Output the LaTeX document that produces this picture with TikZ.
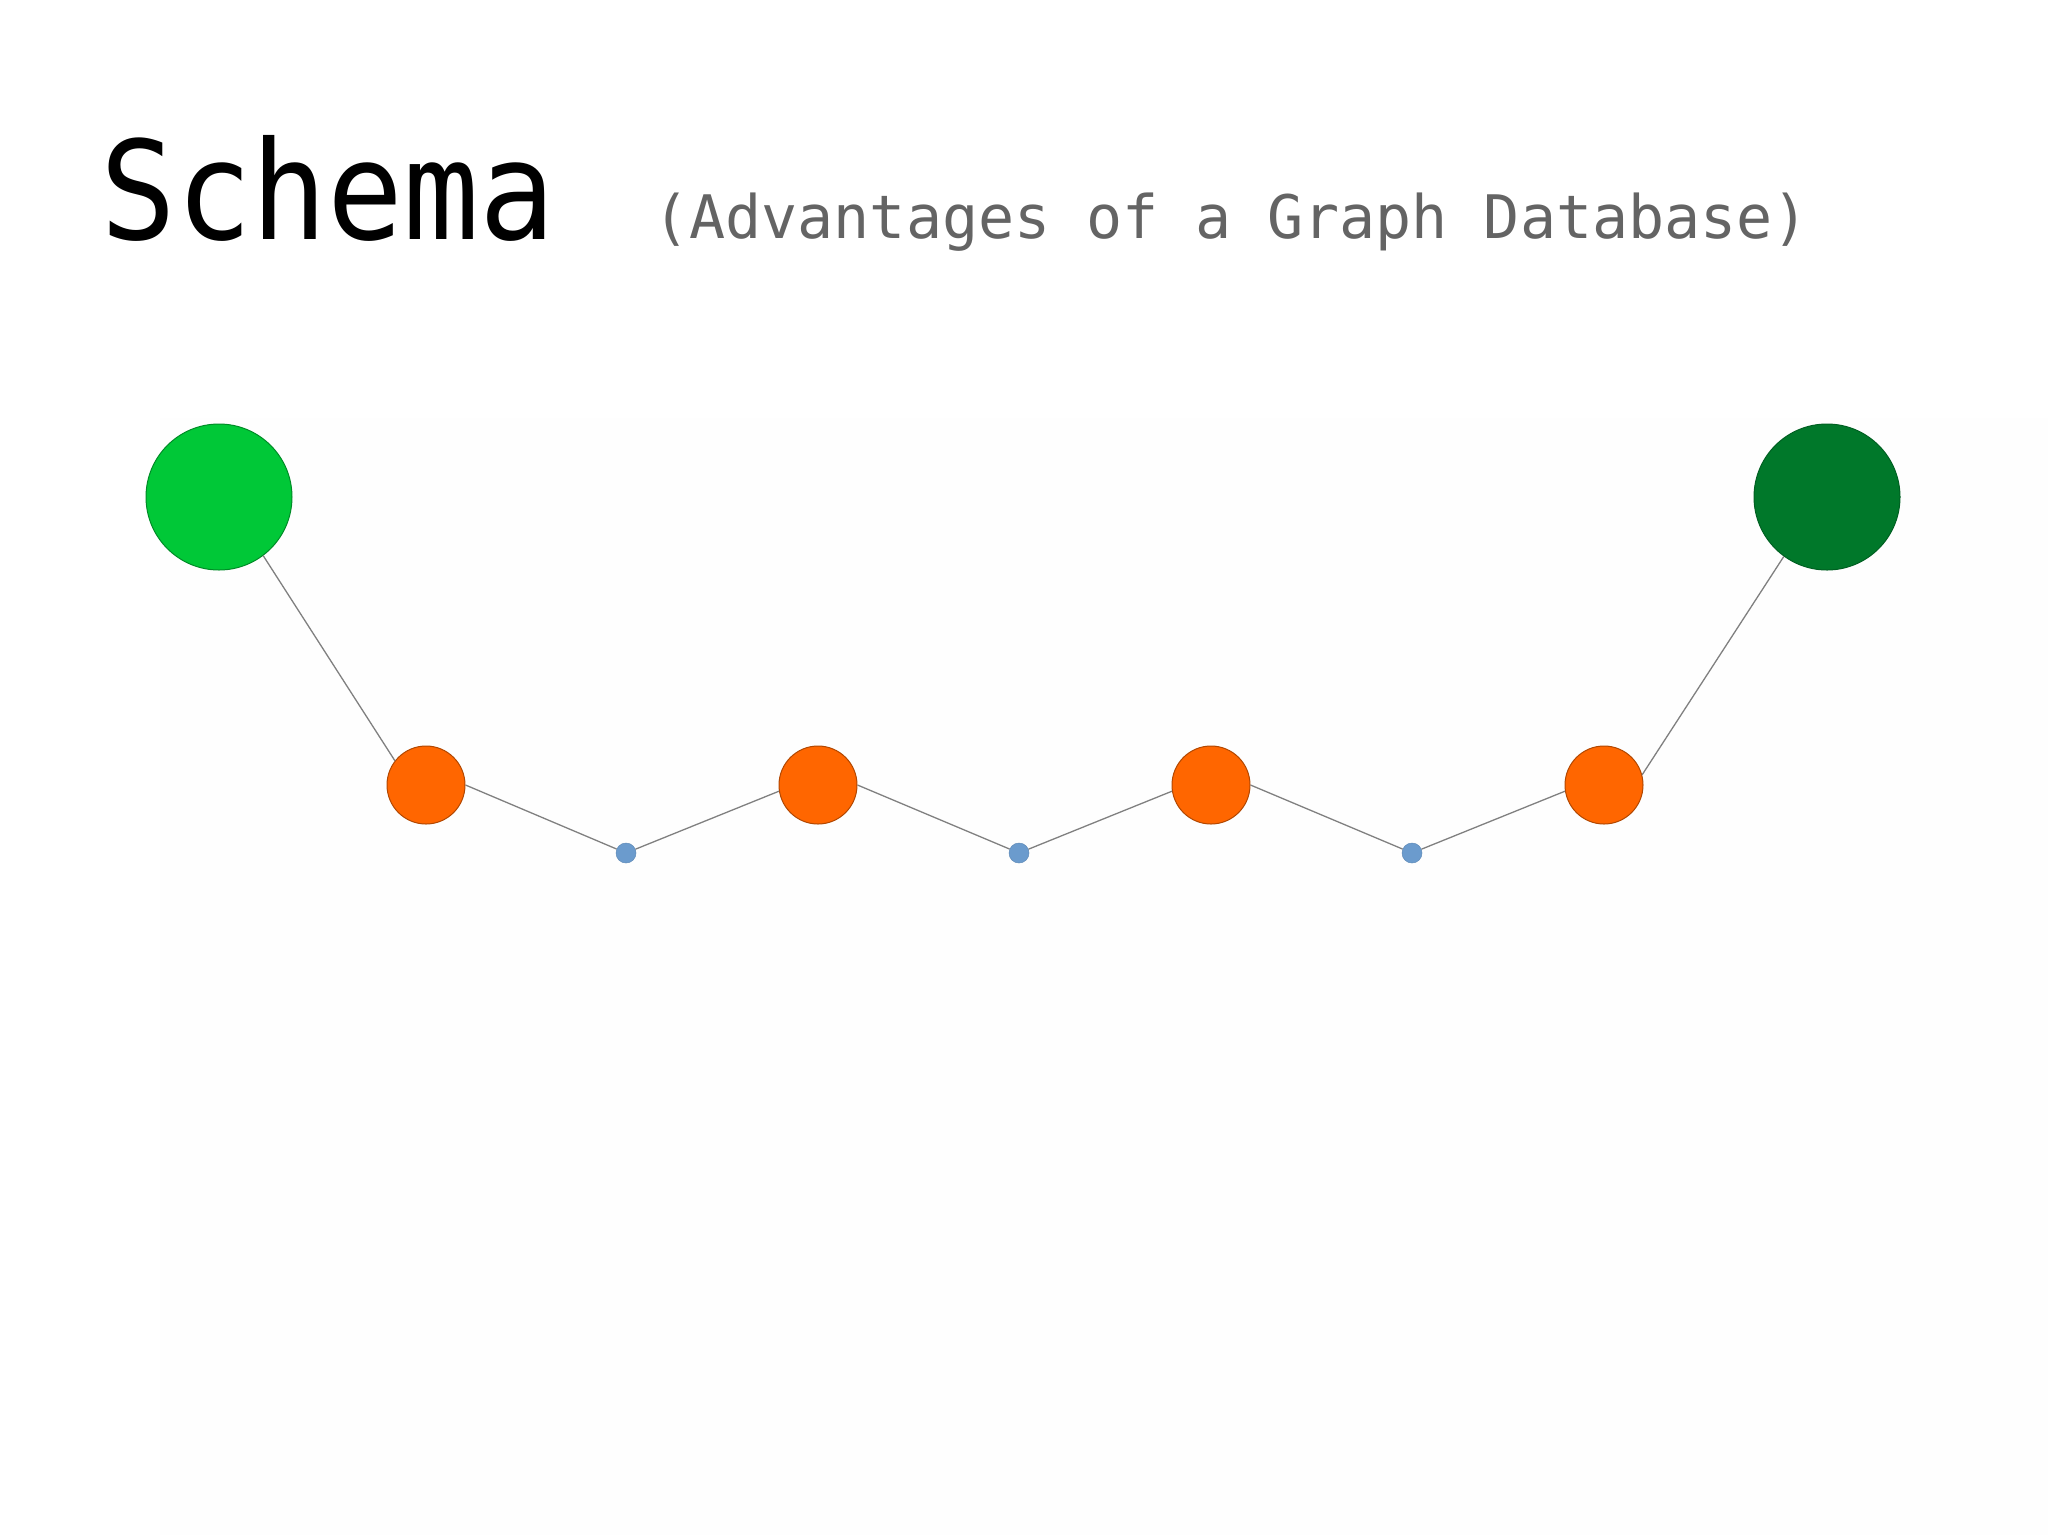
\documentclass[tikz,border=0pt]{standalone}
\usepackage{fontspec}
\newfontfamily\titlefont{DejaVu Sans Mono}
\newfontfamily\subfont{DejaVu Sans Mono}
\definecolor{lgreen}{RGB}{0,200,55}
\definecolor{dgreen}{RGB}{0,120,42}
\definecolor{orng}{RGB}{255,102,0}
\definecolor{blu}{RGB}{107,155,205}
\definecolor{edgegray}{RGB}{128,128,128}
\definecolor{subgray}{RGB}{100,100,100}
\definecolor{panel}{RGB}{254,254,254}
\begin{document}
\begin{tikzpicture}[x=1pt,y=-1pt,
  big/.style={circle,inner sep=0pt,minimum size=146pt,line width=1pt},
  mid/.style={circle,inner sep=0pt,minimum size=78pt,fill=orng,draw=orng!70!black,line width=1pt},
  small/.style={circle,inner sep=0pt,minimum size=20pt,fill=blu,draw=blu!90!black,line width=0.5pt},
  link/.style={draw=edgegray,line width=1.3pt}]
\useasboundingbox[fill=white] (0,0) rectangle (2048,1535);
\fill[panel] (160,418) rectangle (2048,1535);
\node[anchor=base west,inner sep=0pt,xscale=0.92] (title) at (100,239) {\fontsize{137}{150}\selectfont\titlefont Schema};
\node[anchor=base west,inner sep=0pt,text=subgray] (sub) at (653,238) {\fontsize{60}{72}\selectfont\subfont (Advantages of a Graph Database)};
\node[big,fill=lgreen,draw=lgreen!70!black] (g1) at (219,497) {};
\node[big,fill=dgreen,draw=dgreen!80!black] (g2) at (1827,497) {};
\node[mid] (o1) at (426,785) {};
\node[mid] (o2) at (818,785) {};
\node[mid] (o3) at (1211,785) {};
\node[mid] (o4) at (1604,785) {};
\node[small] (b1) at (626,853) {};
\node[small] (b2) at (1019,853) {};
\node[small] (b3) at (1412,853) {};
\path[link] (g1.-53) -- (o1.142);
\path[link] (o1.east) -- (b1) -- (o2.189);
\path[link] (o2.east) -- (b2) -- (o3.189);
\path[link] (o3.east) -- (b3) -- (o4.189);
\path[link] (o4.15) -- (g2.234);
\end{tikzpicture}
\end{document}
